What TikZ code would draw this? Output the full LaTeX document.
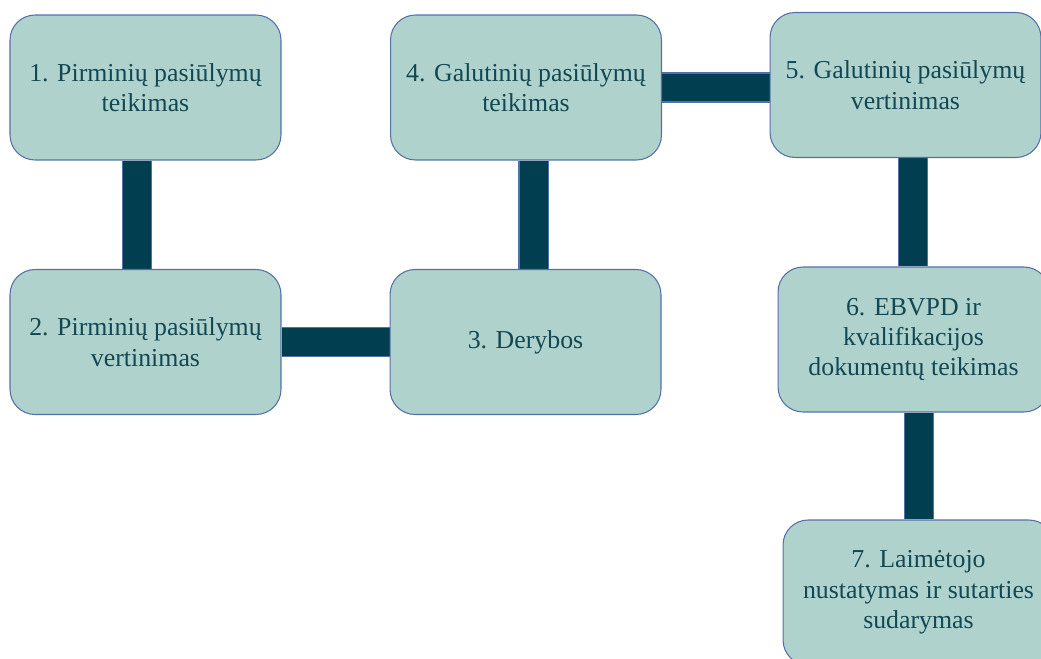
\documentclass[tikz,border=0pt]{standalone}
\usepackage{fontspec}
\setmainfont{Liberation Serif}
\usetikzlibrary{backgrounds}

\definecolor{boxfill}{RGB}{176,210,204}
\definecolor{boxedge}{RGB}{84,112,168}
\definecolor{barteal}{RGB}{0,62,80}
\definecolor{txtteal}{RGB}{18,72,84}

\tikzset{
  stage/.style={rectangle, rounded corners=0.5cm, draw=boxedge, line width=0.6pt,
    fill=boxfill, minimum width=5.42cm, minimum height=2.9cm, inner sep=0pt,
    align=center, text=txtteal, font=\fontsize{14.7}{17.3}\selectfont},
  bar/.style={draw=boxedge, line width=0.6pt, double=barteal, double distance=0.56cm}
}

\begin{document}
\begin{tikzpicture}[x=0.02cm, y=-0.02cm]
  \useasboundingbox (0,0) rectangle (1041,659);
  \clip (0,0) rectangle (1041,659);

  % stages
  \node[stage] (b1) at (145.5,87.5) {1. Pirminių pasiūlymų\\teikimas};
  \node[stage] (b2) at (145.5,342) {2. Pirminių pasiūlymų\\vertinimas};
  \node[stage] (b3) at (525.5,342) {3. Derybos};
  \node[stage] (b4) at (526,87.5) {4. Galutinių pasiūlymų\\teikimas};
  \node[stage] (b5) at (905.5,85) {5. Galutinių pasiūlymų\\vertinimas};
  \node[stage] (b6) at (913.5,339.5) {6. EBVPD ir\\kvalifikacijos\\dokumentų teikimas};
  \node[stage] (b7) at (918.5,592.5) {7. Laimėtojo\\nustatymas ir sutarties\\sudarymas};

  % links between stages
  \begin{scope}[on background layer]
    \draw[bar] ([xshift=-0.17cm]b1.south) -- ([xshift=-0.17cm]b1.south |- b2.north);
    \draw[bar] (b2.east) -- (b2.east -| b3.west);
    \draw[bar] ([xshift=0.16cm]b3.north) -- ([xshift=0.16cm]b3.north |- b4.south);
    \draw[bar] (b4.east) -- (b4.east -| b5.west);
    \draw[bar] ([xshift=0.15cm]b5.south) -- ([xshift=0.15cm]b5.south |- b6.north);
    \draw[bar] ([xshift=0.11cm]b6.south) -- ([xshift=0.11cm]b6.south |- b7.north);
  \end{scope}
\end{tikzpicture}
\end{document}
